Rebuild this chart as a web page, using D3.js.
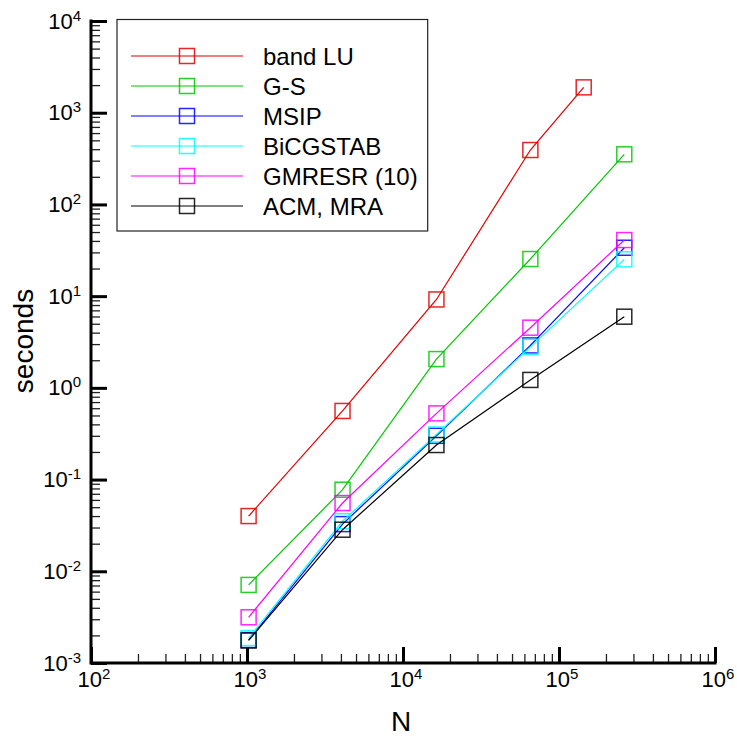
<!DOCTYPE html>
<html>
<head>
<meta charset="utf-8">
<script src="https://cdn.jsdelivr.net/npm/d3@7"></script>
<style>
  html, body { margin: 0; padding: 0; background: #fff; }
  svg { display: block; font-family: "Liberation Sans", Arial, Helvetica, sans-serif; }
</style>
</head>
<body>
<svg id="chart" width="737" height="739"></svg>
<script>
// ---- data ----
const N = [1024, 4096, 16384, 65536, 262144];
const N_bandLU = [1024, 4096, 16384, 65536, 144000];
const bandLU   = [0.040, 0.56, 9.2, 392, 1890];
const GS       = [0.0071, 0.0775, 2.06, 25.4, 352];
const MSIP     = [0.00178, 0.0327, 0.30, 2.9, 33.7];
const BiCGSTAB = [0.00187, 0.0351, 0.31, 2.8, 25.2];
const GMRESR   = [0.00315, 0.0555, 0.527, 4.53, 40.9];
const ACM      = [0.00176, 0.0284, 0.238, 1.22, 5.97];
const seriesNames = ["band LU", "G-S", "MSIP", "BiCGSTAB", "GMRESR (10)", "ACM, MRA"];
const seriesX = [N_bandLU, N, N, N, N, N];
const seriesY = [bandLU, GS, MSIP, BiCGSTAB, GMRESR, ACM];
const colors = ["#e00000", "#00c800", "#0000ff", "#00ffff", "#ff00ff", "#000000"];
const xTickExps = [2, 3, 4, 5, 6];
const yTickExps = [-3, -2, -1, 0, 1, 2, 3, 4];

// ---- layout ----
const svg = d3.select("#chart");
const x = d3.scaleLog().domain([1e2, 1e6]).range([91, 715]);
const y = d3.scaleLog().domain([1e-3, 1e4]).range([663, 21]);
const font = "Liberation Sans, Arial, sans-serif";

// minor ticks
function minors(lo, hi) {
  const out = [];
  for (let e = lo; e < hi; e++) for (let k = 2; k <= 9; k++) out.push(k * Math.pow(10, e));
  return out;
}
const xMinor = minors(2, 6), yMinor = minors(-3, 4);

const gx = svg.append("g").attr("transform", "translate(0,663)");
gx.call(d3.axisBottom(x).tickValues(xMinor).tickSizeInner(-9).tickSizeOuter(0).tickFormat(""))
  .call(g => g.select(".domain").remove())
  .call(g => g.selectAll(".tick line").attr("stroke", "#222").attr("stroke-width", 1.3));
const gxM = svg.append("g").attr("transform", "translate(0,663)");
gxM.call(d3.axisBottom(x).tickValues(xTickExps.map(e => Math.pow(10, e))).tickSizeInner(-16).tickSizeOuter(0).tickFormat(""))
  .call(g => g.select(".domain").remove())
  .call(g => g.selectAll(".tick line").attr("stroke", "#000").attr("stroke-width", 3));

const gy = svg.append("g").attr("transform", "translate(91,0)");
gy.call(d3.axisLeft(y).tickValues(yMinor).tickSizeInner(-9).tickSizeOuter(0).tickFormat(""))
  .call(g => g.select(".domain").remove())
  .call(g => g.selectAll(".tick line").attr("stroke", "#222").attr("stroke-width", 1.3));
const gyM = svg.append("g").attr("transform", "translate(91,0)");
gyM.call(d3.axisLeft(y).tickValues(yTickExps.map(e => Math.pow(10, e))).tickSizeInner(-16).tickSizeOuter(0).tickFormat(""))
  .call(g => g.select(".domain").remove())
  .call(g => g.selectAll(".tick line").attr("stroke", "#000").attr("stroke-width", 3));

// axis lines
svg.append("line").attr("x1", x(1e2)).attr("x2", x(1e6) + 1.5).attr("y1", y(1e-3)).attr("y2", y(1e-3))
  .attr("stroke", "#000").attr("stroke-width", 3);
svg.append("line").attr("x1", x(1e2)).attr("x2", x(1e2)).attr("y1", y(1e4) - 1.5).attr("y2", y(1e-3) + 1.5)
  .attr("stroke", "#000").attr("stroke-width", 3);

// tick labels
yTickExps.forEach(e => {
  const t = svg.append("text").attr("x", 81).attr("y", y(Math.pow(10, e)) + 7.5)
    .attr("text-anchor", "end").attr("font-size", 22).attr("fill", "#000");
  t.append("tspan").text("10");
  t.append("tspan").attr("font-size", 15).attr("dy", -8).text(String(e));
});
xTickExps.forEach(e => {
  const t = svg.append("text").attr("x", x(Math.pow(10, e)) + 3).attr("y", 687)
    .attr("text-anchor", "middle").attr("font-size", 22).attr("fill", "#000");
  t.append("tspan").text("10");
  t.append("tspan").attr("font-size", 15).attr("dy", -8).text(String(e));
});

// axis titles
svg.append("text").attr("x", 401).attr("y", 731).attr("text-anchor", "middle")
  .attr("font-size", 28).attr("fill", "#000").text("N");
svg.append("text").attr("transform", "translate(33,341) rotate(-90)").attr("text-anchor", "middle")
  .attr("font-size", 28).attr("fill", "#000").text("seconds");

// series
const line = d3.line().x(d => x(d[0])).y(d => y(d[1]));
const msz = 15;
seriesNames.forEach((name, i) => {
  const pts = seriesX[i].map((v, j) => [v, seriesY[i][j]]);
  const g = svg.append("g");
  g.append("path").datum(pts).attr("d", line).attr("fill", "none")
    .attr("stroke", colors[i]).attr("stroke-width", 1.2);
  g.selectAll("rect").data(pts).join("rect")
    .attr("x", d => x(d[0]) - msz / 2).attr("y", d => y(d[1]) - msz / 2)
    .attr("width", msz).attr("height", msz)
    .attr("fill", "none").attr("stroke", colors[i]).attr("stroke-width", 1.5).attr("stroke-opacity", 0.85);
});

// legend
const lg = svg.append("g");
const lgLeft = 117, lgTop = 19.5, rowH = 30, row0 = 56;
const lgItems = lg.selectAll("g.item").data(seriesNames).join("g").attr("class", "item");
lgItems.append("line").attr("x1", 131).attr("x2", 243)
  .attr("y1", (d, i) => row0 + i * rowH).attr("y2", (d, i) => row0 + i * rowH)
  .attr("stroke", (d, i) => colors[i]).attr("stroke-width", 1.2);
lgItems.append("rect").attr("x", 187 - msz / 2).attr("y", (d, i) => row0 + i * rowH - msz / 2)
  .attr("width", msz).attr("height", msz).attr("fill", "none")
  .attr("stroke", (d, i) => colors[i]).attr("stroke-width", 1.5).attr("stroke-opacity", 0.85);
const labels = lgItems.append("text").attr("x", 263).attr("y", (d, i) => row0 + i * rowH + 8.5)
  .attr("font-size", 24).attr("fill", "#000").text(d => d);
let maxW = 0;
labels.each(function () { maxW = Math.max(maxW, this.getComputedTextLength()); });
lg.insert("rect", ":first-child").attr("x", lgLeft).attr("y", lgTop)
  .attr("width", 263 + maxW + 10 - lgLeft).attr("height", 231 - lgTop)
  .attr("fill", "#fff").attr("stroke", "#222").attr("stroke-width", 1.2);
</script>
</body>
</html>
